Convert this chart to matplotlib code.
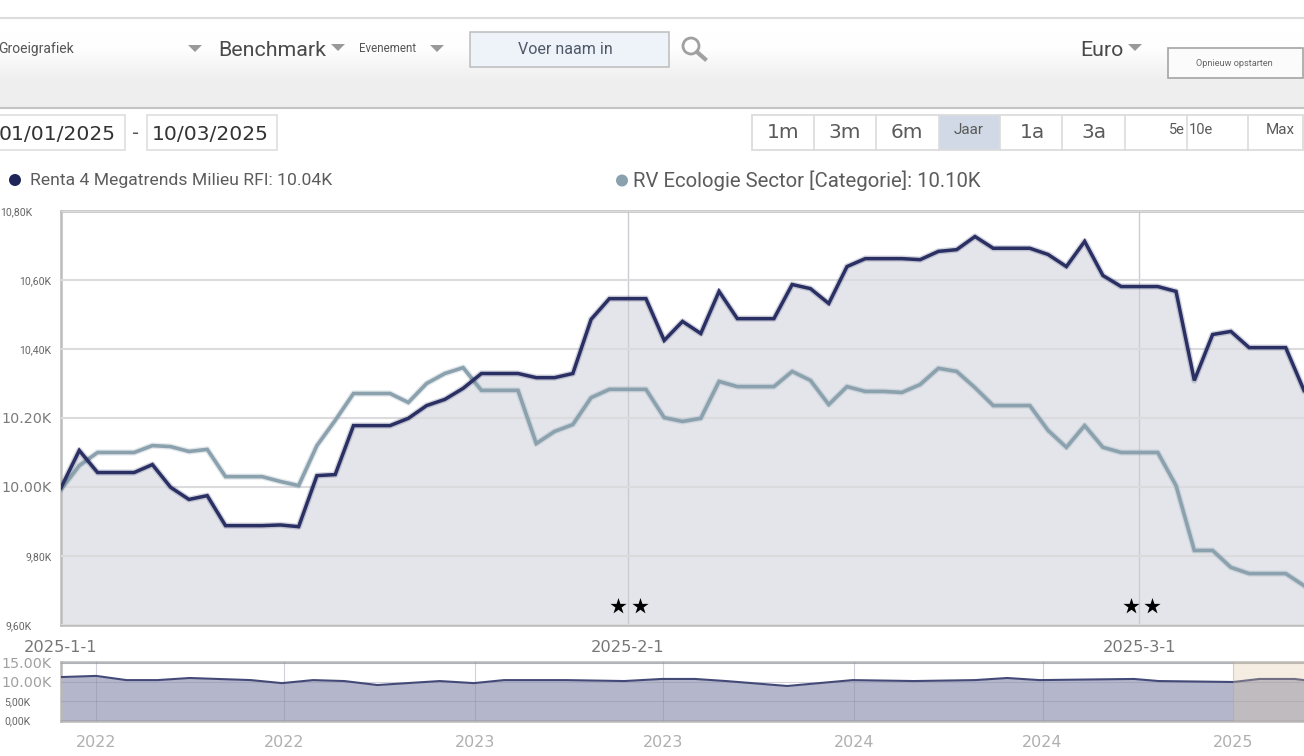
import numpy as np
import pandas as pd
import matplotlib.pyplot as plt
from matplotlib.patches import Circle, Polygon, Rectangle

W, H = 1304, 756

# ---- main chart data (one point per day)
dates = pd.date_range("2025-01-01", "2025-03-10", freq="D")
fund_values = [
    9998, 10106, 10042, 10042, 10042, 10065, 9999, 9964, 9975, 9888,
    9888, 9888, 9890, 9885, 10033, 10036, 10178, 10178, 10178, 10199,
    10236, 10254, 10286, 10329, 10329, 10329, 10317, 10317, 10329, 10486,
    10546, 10546, 10546, 10425, 10480, 10445, 10567, 10488, 10488, 10488,
    10587, 10575, 10532, 10639, 10662, 10662, 10662, 10659, 10683, 10688,
    10726, 10692, 10692, 10692, 10674, 10639, 10712, 10613, 10581, 10581,
    10581, 10567, 10309, 10442, 10451, 10404, 10404, 10404, 10280,
]
sector_values = [
    9993, 10062, 10100, 10100, 10100, 10120, 10117, 10103, 10109, 10030,
    10030, 10030, 10016, 10004, 10120, 10193, 10271, 10271, 10271, 10245,
    10300, 10329, 10346, 10280, 10280, 10280, 10126, 10161, 10181, 10259,
    10283, 10283, 10283, 10201, 10190, 10199, 10306, 10291, 10291, 10291,
    10335, 10309, 10239, 10291, 10277, 10277, 10274, 10297, 10344, 10335,
    10288, 10236, 10236, 10236, 10164, 10115, 10178, 10115, 10100, 10100,
    10100, 10004, 9816, 9816, 9767, 9749, 9749, 9749, 9714,
]
main_yticks = [9600, 9800, 10000, 10200, 10400, 10600, 10800]
main_ylabels = ["9,60K", "9,80K", "10.00K", "10.20K", "10,40K", "10,60K", "10,80K"]
main_xticks = pd.to_datetime(["2025-01-01", "2025-02-01", "2025-03-01"])
main_xlabels = ["2025-1-1", "2025-2-1", "2025-3-1"]
star_dates = pd.to_datetime(
    ["2025-01-31 11:00", "2025-02-01 16:00", "2025-02-28 13:00", "2025-03-01 17:00"]
)
star_values = [9654, 9654, 9654, 9654]

# ---- navigator data
nav_dates = pd.to_datetime([
    "2021-11-28", "2022-01-01", "2022-01-30", "2022-03-01", "2022-04-01",
    "2022-05-30", "2022-06-29", "2022-07-29", "2022-08-28", "2022-09-29",
    "2022-11-28", "2022-12-31", "2023-01-29", "2023-03-30", "2023-05-25",
    "2023-06-30", "2023-08-01", "2023-08-31", "2023-10-29", "2023-12-31",
    "2024-02-28", "2024-04-27", "2024-05-28", "2024-06-28", "2024-09-27",
    "2024-10-21", "2025-01-01", "2025-01-26", "2025-03-01", "2025-03-10",
])
nav_values = [
    11.3, 11.6, 10.5, 10.5, 11.05, 10.5, 9.7, 10.5, 10.25, 9.2,
    10.25, 9.7, 10.5, 10.5, 10.25, 10.8, 10.8, 10.25, 8.95, 10.5,
    10.25, 10.5, 11.05, 10.5, 10.8, 10.25, 10.0, 10.8, 10.8, 10.5,
]
nav_yticks = [0, 5, 10, 15]
nav_ylabels = ["0,00K", "5,00K", "10.00K", "15.00K"]
nav_xticks = pd.to_datetime([
    "2022-01-01", "2022-07-01", "2023-01-01", "2023-07-01",
    "2024-01-01", "2024-07-01", "2025-01-01",
])
nav_xlabels = ["2022", "2022", "2023", "2023", "2024", "2024", "2025"]

range_buttons = ["1m", "3m", "6m", "Jaar", "1a", "3a", "Max"]
range_centers = [783, 845, 907, 969, 1032, 1094, 1280]
range_edges = [814, 876, 939, 1000, 1062, 1125, 1187, 1248]

NAVY = "#2a3063"
SLATE = "#8ba2ae"
FILL = "#e4e5eb"
TEXT = "#5c5c5c"

plt.rcParams["font.family"] = ["Roboto", "DejaVu Sans"]

fig = plt.figure(figsize=(W / 100, H / 100), dpi=100, facecolor="white")


def px_axes(left, top, right, bottom, **kwargs):
    return fig.add_axes(
        [left / W, 1 - bottom / H, (right - left) / W, (bottom - top) / H], **kwargs
    )


# ----------------
# Toolbar
# ----------------

ui = px_axes(0, 0, W, H, zorder=0)
ui.set_axis_off()

shade = np.interp(np.arange(18, 108), [18, 48, 80, 108], [255, 253, 238, 237]) / 255
ui.imshow(
    shade[:, None], cmap="gray", vmin=0, vmax=1, aspect="auto",
    extent=(0, W, 108, 18), zorder=0,
)
ui.set_xlim(0, W)
ui.set_ylim(H, 0)
ui.plot([0, W], [18, 18], color="#dcdcdc", lw=1.5)
ui.plot([0, W], [108, 108], color="#c4c4c4", lw=1.5)


def caret(x, y):
    ui.add_patch(
        Polygon(
            [(x - 7, y - 3), (x + 7, y - 3), (x, y + 4)],
            closed=True, fc="#999999", ec="none",
        )
    )


for x, y in [(195, 48), (338, 47), (437, 48), (1135, 47)]:
    caret(x, y)

ui.text(-2, 49, "Groeigrafiek", fontsize=10, color="#555555", va="center")
ui.text(218, 50.5, "Benchmark", fontsize=15.4, color="#4a4a4a", va="center")
ui.text(359, 48, "Evenement", fontsize=8.3, color="#555555", va="center")
ui.text(1080, 50.5, "Euro", fontsize=15.4, color="#4a4a4a", va="center")

ui.add_patch(Rectangle((470, 32), 199, 35, fc="#eef3fa", ec="#bcbcbc", lw=1.1))
ui.text(565, 50, "Voer naam in", fontsize=11.5, color="#4f5866", ha="center", va="center")

ui.add_patch(Circle((691, 46), 8, fc="none", ec="#a0a0a0", lw=2))
ui.plot([697, 705], [52, 59], color="#a0a0a0", lw=3)

ui.add_patch(Rectangle((1168, 48), 135, 30, fc="#fbfbfb", ec="#a4a4a4", lw=1.2))
ui.text(1234, 63, "Opnieuw opstarten", fontsize=6.6, color="#666666", ha="center", va="center")

# ---- date boxes
ui.add_patch(Rectangle((-5, 115), 130, 35, fc="white", ec="#e0e0e0", lw=1.3))
ui.add_patch(Rectangle((147, 115), 130, 35, fc="white", ec="#e0e0e0", lw=1.3))
ui.text(-1, 134, "01/01/2025", fontsize=14.6, family="DejaVu Sans", color="#333333", va="center")
ui.text(152, 134, "10/03/2025", fontsize=14.6, family="DejaVu Sans", color="#333333", va="center")
ui.text(136, 134, "-", fontsize=14, family="DejaVu Sans", color="#555555", ha="center", va="center")

# ---- range buttons
ui.add_patch(Rectangle((939, 115), 61, 35, fc="#d0d9e5", ec="none"))
ui.add_patch(Rectangle((752, 115), 551, 35, fc="none", ec="#dcdcdc", lw=1.3))
for edge in range_edges:
    ui.plot([edge, edge], [115, 150], color="#dcdcdc", lw=1.2)
for center, label in zip(range_centers, range_buttons):
    small = label in ("Jaar", "Max")
    ui.text(
        center, 130 if small else 132.5, label,
        fontsize=11 if small else 14.5,
        family="Roboto" if small else "DejaVu Sans",
        color="#5a5a5a", ha="center", va="center",
    )
ui.text(1185, 130, "5e", fontsize=10.5, color="#5a5a5a", ha="right", va="center")
ui.text(1189, 130, "10e", fontsize=10.5, color="#5a5a5a", ha="left", va="center")

# ---- legend
ui.add_patch(Circle((15, 180), 6, fc="#1f2559", ec="none"))
ui.text(30, 180, "Renta 4 Megatrends Milieu RFI: 10.04K", fontsize=12.6, color=TEXT, va="center")
ui.add_patch(Circle((622, 180.5), 6, fc=SLATE, ec="none"))
ui.text(633, 180.5, "RV Ecologie Sector [Categorie]: 10.10K", fontsize=14.7, color=TEXT, va="center")

# ----------------
# Main chart
# ----------------

ax = px_axes(61, 211, W, 625, zorder=2, facecolor="white")
ax.fill_between(dates, fund_values, 9600, color=FILL, lw=0, zorder=1)
ax.grid(axis="y", color="#dbdbde", lw=1.5, zorder=2)
ax.set_axisbelow(False)
for d in main_xticks[1:]:
    ax.axvline(d, color="#cbccd2", lw=1.0, zorder=2)
ax.plot(dates, sector_values, color=SLATE, lw=4.5, alpha=0.25, zorder=3)
ax.plot(dates, sector_values, color=SLATE, lw=2.6, zorder=3, solid_joinstyle="miter")
ax.plot(dates, fund_values, color=NAVY, lw=4.5, alpha=0.2, zorder=4)
ax.plot(dates, fund_values, color=NAVY, lw=2.5, zorder=4, solid_joinstyle="miter")
ax.scatter(star_dates, star_values, marker="*", s=150, color="black", lw=0, zorder=5)

ax.set_xlim(dates[0], dates[-1])
ax.set_ylim(9600, 10800)
ax.set_yticks(main_yticks, main_ylabels)
ax.set_xticks(main_xticks, main_xlabels)
ax.tick_params(length=0)
ax.tick_params(axis="x", pad=11, labelsize=11.7, labelcolor="#777777")
for label in ax.get_xticklabels():
    label.set_family("DejaVu Sans")

for tick, label in zip(ax.yaxis.get_major_ticks(), main_ylabels):
    big = "." in label
    tick.label1.set_fontsize(10.3 if big else 7.6)
    tick.label1.set_family("DejaVu Sans" if big else "Roboto")
    tick.label1.set_color("#7a7a7a" if big else "#666666")
    tick.set_pad(21 if label in ("9,60K", "10,80K") else 7)

for name in ("top", "left", "bottom"):
    ax.spines[name].set_color("#bcbcbc")
    ax.spines[name].set_linewidth(1.8)
ax.spines["right"].set_visible(False)

# ----------------
# Navigator
# ----------------

nav = px_axes(61, 662, W, 721, zorder=2, facecolor="white")
nav.fill_between(nav_dates, nav_values, -0.26, color="#b4b7cc", lw=0, zorder=1)
nav.plot(nav_dates, nav_values, color="#444a78", lw=1.5, zorder=3)
nav.grid(color="#8a8ea8", alpha=0.4, lw=0.8, zorder=2)
nav.set_axisbelow(False)
nav.axvspan(pd.Timestamp("2025-01-01"), nav_dates[-1], color="#dec6a2", alpha=0.3, lw=0, zorder=4)

nav.set_xlim(nav_dates[0], nav_dates[-1])
nav.set_ylim(-0.26, 15.26)
nav.set_yticks(nav_yticks, nav_ylabels)
nav.set_xticks(nav_xticks, nav_xlabels)
nav.tick_params(length=0)
nav.tick_params(axis="x", pad=10, labelsize=11.5, labelcolor="#b0b0b0")
for label in nav.get_xticklabels():
    label.set_family("DejaVu Sans")

for tick, label in zip(nav.yaxis.get_major_ticks(), nav_ylabels):
    big = "." in label
    tick.label1.set_fontsize(10.3 if big else 7.6)
    tick.label1.set_family("DejaVu Sans" if big else "Roboto")
    tick.label1.set_color("#a0a0a0" if big else "#666666")
    tick.set_pad(7 if big else 22)

for name in ("top", "left", "bottom"):
    nav.spines[name].set_color("#b8b8b8")
    nav.spines[name].set_linewidth(1.8)
nav.spines["right"].set_visible(False)

fig.savefig("out.png", dpi=100)
